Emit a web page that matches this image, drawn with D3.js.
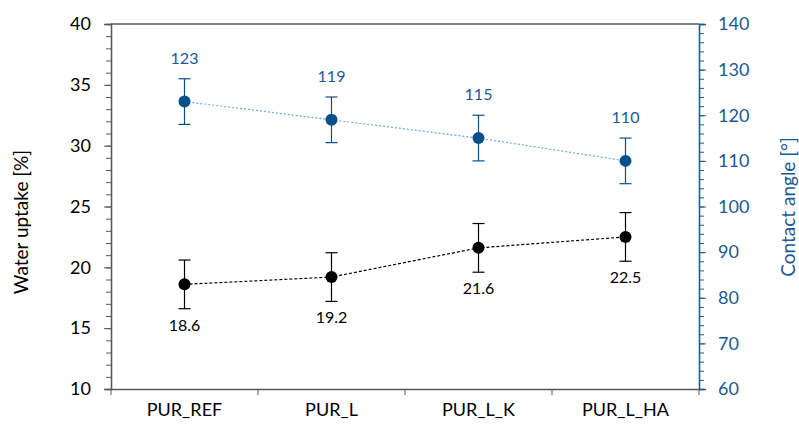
<!DOCTYPE html>
<html>
<head>
<meta charset="utf-8">
<script src="https://cdn.jsdelivr.net/npm/d3@7"></script>
<style>
  body { margin: 0; background: #fff; }
  text { font-family: Lato, sans-serif; }
</style>
</head>
<body>
<div id="chart"></div>
<script>
const categories = ['PUR_REF', 'PUR_L', 'PUR_L_K', 'PUR_L_HA'];
const waterUptake = [18.6, 19.2, 21.6, 22.5];
const waterErr = [2.0, 2.0, 2.0, 2.0];
const contactAngle = [123, 119, 115, 110];
const angleErr = [5, 5, 5, 5];
const leftTicks = [10, 15, 20, 25, 30, 35, 40];
const rightTicks = [60, 70, 80, 90, 100, 110, 120, 130, 140];

const width = 799, height = 428;
const margin = { top: 24, right: 100, bottom: 39, left: 111 };
const blue = '#1a5a96', blueMark = '#08508c', lightBlue = '#6fa8dc', grey = '#595959';
const font = 'Lato, sans-serif';

const svg = d3.select('#chart').append('svg')
  .attr('width', width).attr('height', height);

const x = d3.scaleBand().domain(categories)
  .range([margin.left, width - margin.right]);
const yL = d3.scaleLinear().domain([10, 40]).range([height - margin.bottom, margin.top]);
const yR = d3.scaleLinear().domain([60, 140]).range([height - margin.bottom, margin.top]);
const cx = (i) => x(categories[i]) + x.bandwidth() / 2;

// top border
svg.append('line')
  .attr('x1', margin.left).attr('x2', width - margin.right)
  .attr('y1', margin.top).attr('y2', margin.top)
  .attr('stroke', grey).attr('stroke-width', 1.3);

// left axis with minor ticks
const leftG = svg.append('g').attr('transform', 'translate(' + margin.left + ',0)');
leftG.call(d3.axisLeft(yL).tickValues(d3.range(10, 41, 1)).tickSize(5).tickFormat(''));
const leftMajor = svg.append('g').attr('transform', 'translate(' + margin.left + ',0)')
  .call(d3.axisLeft(yL).tickValues(leftTicks).tickSize(7).tickPadding(13));
[leftG, leftMajor].forEach((g) => {
  g.select('.domain').attr('stroke', grey).attr('stroke-width', 1.3);
  g.selectAll('.tick line').attr('stroke', grey);
});
leftMajor.selectAll('.tick text').attr('font-size', 18).attr('fill', '#000')
  .attr('font-family', font);

// right axis
const rightG = svg.append('g').attr('transform', 'translate(' + (width - margin.right) + ',0)');
rightG.call(d3.axisRight(yR).tickValues(d3.range(60, 141, 2)).tickSize(5).tickFormat(''));
const rightMajor = svg.append('g').attr('transform', 'translate(' + (width - margin.right) + ',0)')
  .call(d3.axisRight(yR).tickValues(rightTicks).tickSize(7).tickPadding(12));
[rightG, rightMajor].forEach((g) => {
  g.select('.domain').attr('stroke', blue).attr('stroke-width', 1.3);
  g.selectAll('.tick line').attr('stroke', blue);
});
rightMajor.selectAll('.tick text').attr('font-size', 18).attr('fill', blue)
  .attr('font-family', font);

// bottom axis: ticks at category boundaries
const bottomG = svg.append('g').attr('transform', 'translate(0,' + (height - margin.bottom) + ')');
bottomG.call(d3.axisBottom(x).tickSize(0).tickPadding(14));
bottomG.select('.domain').attr('stroke', grey).attr('stroke-width', 1.3);
bottomG.selectAll('.tick text').attr('font-size', 18).attr('fill', '#000')
  .attr('font-family', font);
bottomG.selectAll('.boundary')
  .data(categories.map((c) => x(c)).concat([width - margin.right]))
  .enter().append('line')
  .attr('x1', (d) => d).attr('x2', (d) => d)
  .attr('y1', 0).attr('y2', 6)
  .attr('stroke', grey);

// axis titles
svg.append('text')
  .attr('transform', 'translate(28,' + 222 + ') rotate(-90)')
  .attr('text-anchor', 'middle').attr('font-size', 19).attr('fill', '#000')
  .text('Water uptake [%]');
svg.append('text')
  .attr('transform', 'translate(795,' + 207 + ') rotate(-90)')
  .attr('text-anchor', 'middle').attr('font-size', 19).attr('fill', blue)
  .text('Contact angle [°]');

function drawSeries(values, errs, scale, opts) {
  const idx = values.map((v, i) => i);
  const line = d3.line().x((i) => cx(i)).y((i) => scale(values[i]));
  svg.append('path').datum(idx)
    .attr('d', line).attr('fill', 'none')
    .attr('stroke', opts.lineColor).attr('stroke-width', 1.2)
    .attr('stroke-dasharray', opts.dash);

  const eb = svg.append('g');
  idx.forEach((i) => {
    const top = scale(values[i] + errs[i]);
    const bot = scale(values[i] - errs[i]);
    eb.append('line').attr('x1', cx(i)).attr('x2', cx(i))
      .attr('y1', top).attr('y2', bot).attr('stroke', opts.color).attr('stroke-width', 1.2);
    [top, bot].forEach((yy) => {
      eb.append('line').attr('x1', cx(i) - 6).attr('x2', cx(i) + 6)
        .attr('y1', yy).attr('y2', yy).attr('stroke', opts.color).attr('stroke-width', 1.2);
    });
  });

  svg.append('g').selectAll('circle').data(idx).enter().append('circle')
    .attr('cx', (i) => cx(i)).attr('cy', (i) => scale(values[i]))
    .attr('r', 6).attr('fill', opts.color);

  svg.append('g').selectAll('text').data(idx).enter().append('text')
    .attr('x', (i) => cx(i))
    .attr('y', (i) => opts.above
      ? scale(values[i] + errs[i]) - 15
      : scale(values[i] - errs[i]) + 22)
    .attr('text-anchor', 'middle').attr('font-size', 16)
    .attr('fill', opts.labelColor)
    .text((i) => opts.format(values[i]));
}

drawSeries(contactAngle, angleErr, yR, {
  color: blueMark, lineColor: lightBlue, labelColor: blue, dash: '2,2',
  above: true, format: (v) => String(v)
});
drawSeries(waterUptake, waterErr, yL, {
  color: '#000', lineColor: '#000', labelColor: '#000', dash: '3,2',
  above: false, format: (v) => v.toFixed(1)
});
</script>
</body>
</html>
